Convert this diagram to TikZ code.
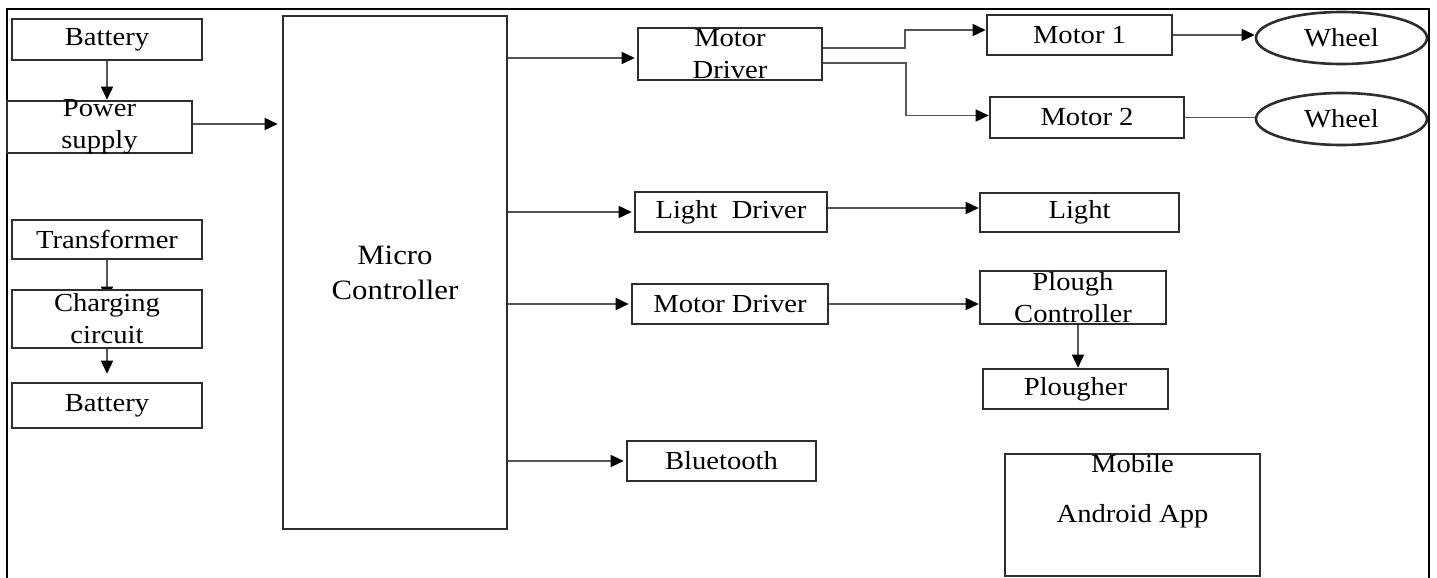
\documentclass[tikz,border=0pt]{standalone}
\usepackage{fontspec}
\setmainfont[FakeStretch=1.1]{Liberation Serif}
\usetikzlibrary{arrows.meta,calc,positioning,backgrounds,shapes.geometric}
\definecolor{boxgray}{HTML}{2E2E2E}
\definecolor{linegray}{HTML}{555555}

\begin{document}
\begin{tikzpicture}[x=0.5pt,y=-0.5pt,
  blk/.style={draw=boxgray,line width=1.3pt,fill=white,inner sep=0pt,font=\fontsize{13}{16}\selectfont,align=center},
  two/.style={inner ysep=-3pt},
  arr/.style={draw=linegray,line width=0.8pt,-{Triangle[length=6.5pt,width=6pt,color=black]}},
  ln/.style={draw=linegray,line width=0.8pt}]
  \useasboundingbox (0,0) rectangle (1437,578);
  \draw[line width=1.2pt] (7,578)--(7,9)--(1429,9)--(1429,578);
  % power side
  \node[blk,minimum width=95pt,minimum height=20.5pt] (bat1) at (107,39.5) {Battery};
  \node[blk,two,minimum width=92.5pt,minimum height=26pt] (pwr) at (99.5,127) {Power\\supply};
  \node[blk,minimum width=95pt,minimum height=19.5pt] (trf) at (107,239.5) {Transformer};
  \node[blk,two,minimum width=95pt,minimum height=29pt] (chg) at (107,319) {Charging\\circuit};
  \node[blk,minimum width=95pt,minimum height=22.5pt] (bat2) at (107,405.5) {Battery};
  \node[blk,minimum width=112pt,minimum height=256.5pt,font=\fontsize{14}{17.5}\selectfont] (mcu) at (395,272.5) {Micro\\Controller};
  % drivers
  \node[blk,two,minimum width=92pt,minimum height=26pt] (mdrv1) at (730,54) {Motor\\Driver};
  \node[blk,minimum width=96pt,minimum height=20pt] (ldrv) at (731,212) {Light\ \ Driver};
  \node[blk,minimum width=98pt,minimum height=20pt] (mdrv2) at (730,304) {Motor Driver};
  \node[blk,minimum width=94.5pt,minimum height=20pt] (bt) at (721.5,461) {Bluetooth};
  % outputs
  \node[blk,minimum width=92.5pt,minimum height=20pt] (mot1) at (1079.5,35) {Motor 1};
  \node[blk,minimum width=97pt,minimum height=20.5pt] (mot2) at (1087,117.5) {Motor 2};
  \node[blk,ellipse,minimum width=85.5pt,minimum height=26pt] (whl1) at (1341.5,38) {Wheel};
  \node[blk,ellipse,minimum width=85.5pt,minimum height=26pt] (whl2) at (1341.5,119) {Wheel};
  \node[blk,minimum width=99.5pt,minimum height=19.5pt] (lgt) at (1079.5,212.5) {Light};
  \node[blk,two,minimum width=93pt,minimum height=26.5pt] (plc) at (1073,297.5) {Plough\\Controller};
  \node[blk,minimum width=92.5pt,minimum height=20pt] (plg) at (1075.5,389) {Plougher};
  \node[blk,minimum width=127.5pt,minimum height=61pt] (app) at (1132.5,515) {};
  \node[font=\fontsize{13}{16}\selectfont,align=center,inner ysep=0.6pt,anchor=north] (applbl) at (app.north) {Mobile\\[9pt]Android App};
  % connectors
  \draw[arr] (bat1.south) -- (bat1.south |- pwr.north);
  \draw[arr,shorten >=2pt] ([yshift=1.5pt]pwr.east) -- ([yshift=1.5pt]pwr.east -| mcu.west);
  \begin{scope}[on background layer]
    \draw[arr,shorten >=-5.5pt] (trf.south) -- (trf.south |- chg.north);
  \end{scope}
  \draw[arr,shorten >=4pt] (chg.south) -- (chg.south |- bat2.north);
  \foreach \n/\dy in {mdrv1/-2pt,ldrv/0pt,mdrv2/0pt,bt/0pt}
    \draw[arr,shorten >=1pt] ([yshift=\dy]\n.west -| mcu.east) -- ([yshift=\dy]\n.west);
  \draw[arr] ([yshift=3pt]mdrv1.east) -| ([xshift=-40.5pt,yshift=2.5pt]mot1.west) -- ([yshift=2.5pt]mot1.west);
  \draw[arr] ([yshift=-4.5pt]mdrv1.east) -| ([xshift=-41.5pt,yshift=1pt]mot2.west) -- ([yshift=1pt]mot2.west);
  \draw[arr] (mot1.east) -- (mot1.east -| whl1.west);
  \draw[ln] (mot2.east) -- (mot2.east -| whl2.west);
  \draw[arr] ([yshift=2pt]ldrv.east) -- ([yshift=2pt]ldrv.east -| lgt.west);
  \draw[arr] (mdrv2.east) -- (mdrv2.east -| plc.west);
  \draw[arr] ([xshift=2.5pt]plc.south) -- ([xshift=2.5pt]plc.south |- plg.north);
\end{tikzpicture}
\end{document}
